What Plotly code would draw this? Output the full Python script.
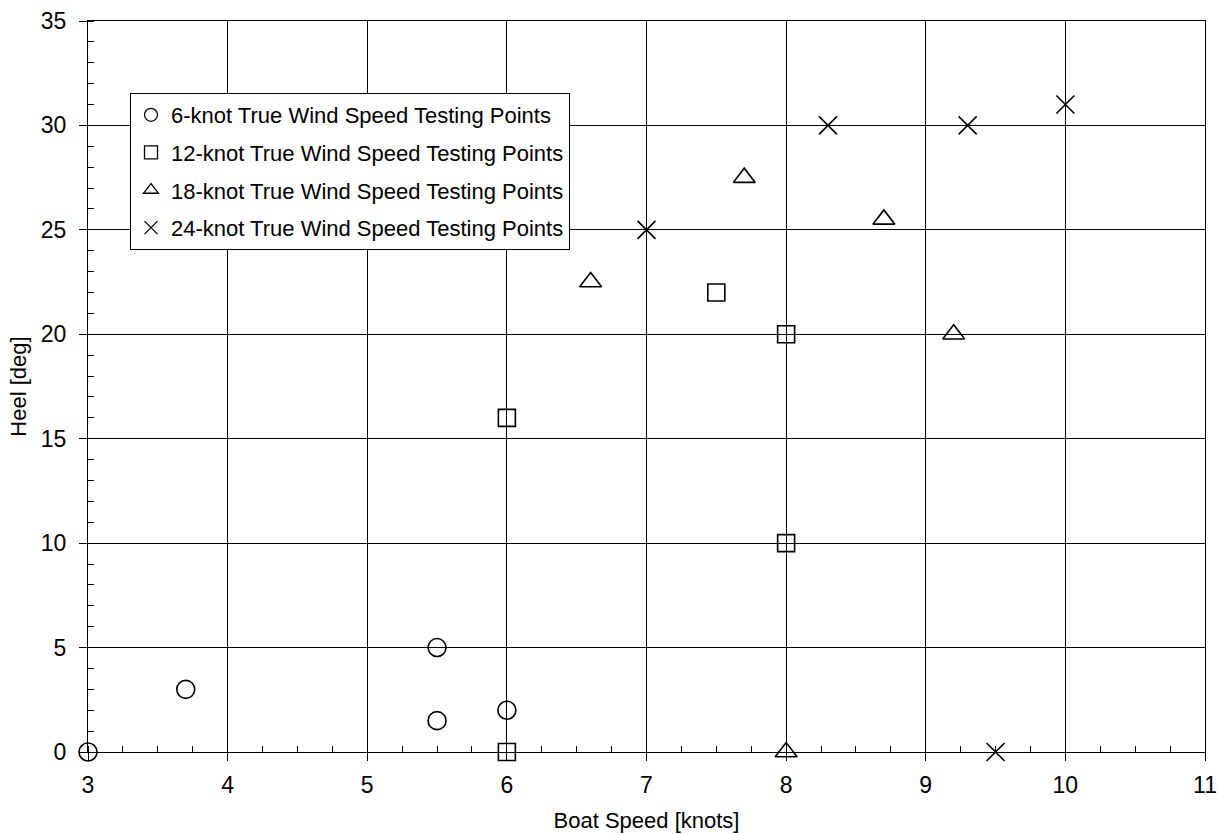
import plotly.graph_objects as go

names = ["6-knot True Wind Speed Testing Points",
         "12-knot True Wind Speed Testing Points",
         "18-knot True Wind Speed Testing Points",
         "24-knot True Wind Speed Testing Points"]
x6 = [3.0, 3.7, 5.5, 5.5, 6.0]
y6 = [0, 3, 5, 1.5, 2]
x12 = [6.0, 6.0, 7.5, 8.0, 8.0]
y12 = [0, 16, 22, 20, 10]
x18 = [8.0, 6.6, 7.7, 8.7, 9.2]
y18 = [0, 22.5, 27.5, 25.5, 20]
x24 = [9.5, 7.0, 8.3, 9.3, 10.0]
y24 = [0, 25, 30, 30, 31]

symbols = ["circle-open", "square-open", "triangle-up-open", "x-thin-open"]
sizes = [18, 17, 19, 18]
data = [(x6, y6), (x12, y12), (x18, y18), (x24, y24)]

fig = go.Figure()
for (xs, ys), nm, sym, sz in zip(data, names, symbols, sizes):
    fig.add_trace(go.Scatter(x=xs, y=ys, mode="markers", name=nm, showlegend=False,
                             cliponaxis=False,
                             marker=dict(symbol=sym, size=sz, color="black",
                                         line=dict(color="black", width=1.6))))
for i, (nm, sym) in enumerate(zip(names, symbols)):
    fig.add_trace(go.Scatter(x=[None], y=[None], mode="markers", name=nm,
                             legendgroup="g%d" % i,
                             marker=dict(symbol=sym, size=13, color="black",
                                         line=dict(color="black", width=1.3))))

axis_common = dict(showline=True, linecolor="black", linewidth=1, mirror=True,
                   showgrid=True, gridcolor="black", gridwidth=1,
                   zeroline=False, ticks="outside", ticklen=8, tickcolor="black",
                   tickfont=dict(size=23, color="black"), automargin=False)
fig.update_xaxes(range=[3, 11], dtick=1, tick0=3, ticklabelstandoff=4,
                 title=dict(text="Boat Speed [knots]", font=dict(size=22, color="black"), standoff=16),
                 minor=dict(dtick=0.25, ticks="inside", ticklen=6, tickcolor="black", showgrid=False),
                 **axis_common)
fig.update_yaxes(range=[0, 35], dtick=5, ticklabelstandoff=8,
                 title=dict(text="Heel [deg]", font=dict(size=22, color="black"), standoff=8),
                 minor=dict(dtick=1, ticks="inside", ticklen=6, tickcolor="black", showgrid=False),
                 **axis_common)

fig.update_layout(
    width=1217, height=834,
    margin=dict(l=88, r=12, t=21, b=82),
    paper_bgcolor="white", plot_bgcolor="white",
    font=dict(family="Liberation Sans, Arial, sans-serif", color="black"),
    legend=dict(x=0.0376, y=0.9015, xanchor="left", yanchor="top",
                bgcolor="white", bordercolor="black", borderwidth=1,
                font=dict(size=22, color="black"), tracegroupgap=6,
                traceorder="grouped", itemwidth=30),
)
fig.write_html("out.html", config={"displayModeBar": False},
               post_script="document.body.style.margin='0';")
